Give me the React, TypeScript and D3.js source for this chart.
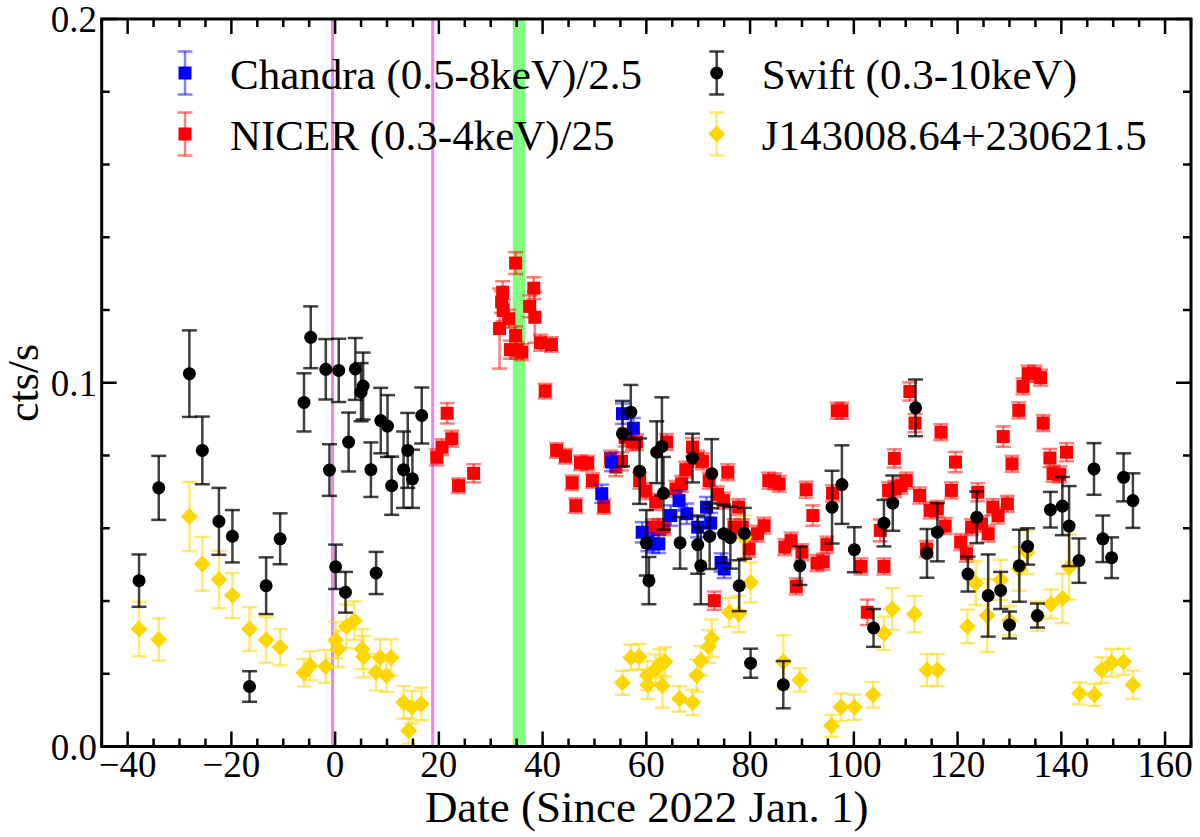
import * as d3 from "d3"

type Pt = [number, number, number] // day, rate, error

// Chandra (0.5-8 keV)/2.5
const chandra: Pt[] = [
  [51.4, 0.0695, 0.0025], [53.3, 0.0782, 0.0025], [55.4, 0.0915, 0.0028], [57.5, 0.0875, 0.0028],
  [59.2, 0.0589, 0.0028], [60.3, 0.0562, 0.0025], [61.2, 0.0557, 0.0025], [62.4, 0.0557, 0.0025],
  [64.7, 0.0635, 0.0028], [66.3, 0.0676, 0.0028], [67.8, 0.064, 0.0028], [69.9, 0.0603, 0.0028],
  [71.6, 0.0658, 0.0028], [72.4, 0.0614, 0.0028], [74.4, 0.0506, 0.0025], [75.0, 0.0488, 0.0025],
]

// NICER (0.3-4 keV)/25
const nicer: Pt[] = [
  [19.6, 0.0795, 0.0022], [20.6, 0.0823, 0.0022], [21.6, 0.0916, 0.0028], [22.5, 0.0846, 0.0022],
  [23.8, 0.0717, 0.002], [26.7, 0.0751, 0.0025], [31.7, 0.1149, 0.011], [32.1, 0.1222, 0.003],
  [32.3, 0.1249, 0.003], [32.4, 0.1199, 0.003], [33.5, 0.1176, 0.0025], [33.8, 0.1091, 0.0025],
  [34.8, 0.1329, 0.003], [34.8, 0.113, 0.0025], [35.1, 0.1089, 0.0022], [36.0, 0.1084, 0.0022],
  [37.5, 0.121, 0.003], [38.3, 0.126, 0.003], [38.5, 0.118, 0.007], [39.6, 0.111, 0.0022],
  [41.7, 0.1105, 0.002], [40.5, 0.0977, 0.002], [42.7, 0.0814, 0.002], [44.4, 0.0798, 0.002],
  [45.7, 0.0725, 0.002], [46.4, 0.0662, 0.002], [47.3, 0.078, 0.002], [48.7, 0.0779, 0.002],
  [49.6, 0.0731, 0.002], [51.8, 0.066, 0.002], [53.1, 0.0791, 0.0022], [54.1, 0.0768, 0.0025],
  [55.2, 0.0784, 0.0025], [55.9, 0.085, 0.0025], [57.3, 0.0837, 0.0022], [58.1, 0.0837, 0.0022],
  [58.7, 0.0731, 0.0022], [59.9, 0.0702, 0.0022], [61.2, 0.0603, 0.0022], [61.8, 0.0672, 0.0022],
  [62.4, 0.0603, 0.0022], [63.4, 0.0603, 0.0022], [63.9, 0.0837, 0.0022], [65.7, 0.0708, 0.0022],
  [66.8, 0.0722, 0.0022], [67.6, 0.0761, 0.0022], [68.9, 0.0823, 0.0025], [69.9, 0.0791, 0.0022],
  [70.8, 0.0784, 0.0022], [72.1, 0.0731, 0.0022], [73.1, 0.0401, 0.0025], [73.7, 0.0693, 0.0022],
  [74.9, 0.0676, 0.0022], [75.7, 0.0754, 0.0022], [76.9, 0.0603, 0.0022], [77.8, 0.0658, 0.0022],
  [78.5, 0.0603, 0.0022], [79.8, 0.0543, 0.0022], [81.4, 0.0585, 0.0022], [82.7, 0.0607, 0.0022],
  [83.6, 0.0731, 0.0022], [84.7, 0.0729, 0.0022], [85.6, 0.0722, 0.0022], [86.7, 0.0548, 0.0022],
  [87.9, 0.0566, 0.0022], [88.9, 0.044, 0.0022], [90.0, 0.0534, 0.0022], [90.8, 0.0706, 0.0022],
  [92.1, 0.0635, 0.0028], [92.9, 0.0504, 0.0022], [94.1, 0.0508, 0.0022], [94.8, 0.0555, 0.0022],
  [95.9, 0.0696, 0.0022], [96.8, 0.0923, 0.0022], [97.7, 0.0923, 0.0022], [101.4, 0.0495, 0.0022],
  [102.6, 0.0369, 0.0035], [105.1, 0.0594, 0.003], [105.8, 0.0495, 0.0022], [106.7, 0.0704, 0.0022],
  [107.8, 0.0792, 0.0025], [107.9, 0.0708, 0.0022], [109.1, 0.0717, 0.0022], [110.1, 0.0731, 0.0022],
  [110.8, 0.0976, 0.0025], [111.8, 0.0889, 0.0025], [112.7, 0.069, 0.0022], [114.0, 0.0543, 0.0022],
  [114.7, 0.0649, 0.0022], [116.1, 0.0653, 0.0022], [116.8, 0.0864, 0.0022], [117.6, 0.0606, 0.0022],
  [118.8, 0.0704, 0.0022], [119.6, 0.0782, 0.0028], [120.6, 0.0562, 0.0022], [121.7, 0.053, 0.0022],
  [122.7, 0.0603, 0.0022], [123.9, 0.0699, 0.0025], [124.6, 0.0612, 0.0022], [125.9, 0.0585, 0.0022],
  [126.8, 0.0658, 0.0022], [127.8, 0.0635, 0.0022], [128.8, 0.0852, 0.0028], [129.6, 0.0667, 0.0022],
  [130.5, 0.0777, 0.0022], [131.8, 0.0924, 0.0022], [132.6, 0.099, 0.0022], [133.6, 0.1025, 0.0022],
  [134.9, 0.1025, 0.0022], [136.0, 0.1014, 0.0022], [136.5, 0.0889, 0.0022], [137.8, 0.0793, 0.0025],
  [138.4, 0.075, 0.0022], [139.7, 0.0748, 0.0022], [141.0, 0.0809, 0.0025],
]

// Swift (0.3-10 keV)
const swift: Pt[] = [
  [-37.8, 0.0456, 0.0072], [-34.0, 0.0711, 0.0088], [-28.1, 0.1025, 0.0119], [-25.6, 0.0814, 0.0093],
  [-22.4, 0.0619, 0.0092], [-19.8, 0.0578, 0.0072], [-16.5, 0.0165, 0.0042], [-13.3, 0.0442, 0.0078],
  [-10.6, 0.0571, 0.007], [-6.0, 0.0946, 0.008], [-4.7, 0.1125, 0.0085], [-1.8, 0.1037, 0.0083],
  [-1.1, 0.076, 0.0071], [0.1, 0.0494, 0.0061], [0.7, 0.1034, 0.0087], [2.0, 0.0424, 0.0056],
  [2.6, 0.0837, 0.0081], [3.9, 0.1038, 0.0085], [5.0, 0.0974, 0.008], [5.4, 0.0991, 0.0092],
  [6.9, 0.0761, 0.0075], [7.9, 0.0477, 0.0058], [8.8, 0.0896, 0.009], [10.1, 0.0881, 0.0085],
  [10.9, 0.0717, 0.008], [13.2, 0.0761, 0.0105], [14.0, 0.0814, 0.0103], [14.9, 0.0736, 0.008],
  [16.7, 0.091, 0.0077], [55.4, 0.086, 0.009], [57.0, 0.0919, 0.0075], [58.7, 0.0757, 0.009],
  [60.0, 0.056, 0.009], [60.5, 0.0456, 0.0065], [62.0, 0.0809, 0.0085], [63.0, 0.0825, 0.0135],
  [63.3, 0.0696, 0.01], [66.5, 0.056, 0.0071], [68.9, 0.0793, 0.0067], [69.9, 0.0555, 0.008],
  [70.5, 0.0497, 0.0106], [72.2, 0.0578, 0.009], [72.6, 0.075, 0.0095], [74.9, 0.0585, 0.008],
  [76.2, 0.0574, 0.0085], [77.9, 0.0442, 0.007], [78.9, 0.0586, 0.007], [80.1, 0.0229, 0.004],
  [86.4, 0.017, 0.0065], [89.6, 0.0497, 0.0053], [95.8, 0.0658, 0.01], [97.7, 0.072, 0.0108],
  [100.1, 0.0541, 0.0062], [103.8, 0.0326, 0.0052], [105.8, 0.0614, 0.0064], [107.5, 0.0669, 0.0076],
  [111.9, 0.0931, 0.0078], [114.1, 0.0531, 0.0067], [116.1, 0.0589, 0.008], [122.0, 0.0474, 0.0048],
  [123.7, 0.063, 0.0071], [125.9, 0.0415, 0.0113], [128.3, 0.0429, 0.0051], [130.0, 0.0334, 0.0037],
  [131.9, 0.0497, 0.0099], [133.5, 0.055, 0.005], [135.4, 0.036, 0.0033], [137.9, 0.0651, 0.0049],
  [140.2, 0.0661, 0.008], [141.5, 0.0606, 0.011], [143.4, 0.0511, 0.0061], [146.3, 0.0763, 0.0071],
  [148.0, 0.0571, 0.0064], [149.7, 0.0519, 0.0056], [152.0, 0.074, 0.0066], [153.8, 0.0676, 0.0075],
]

// J143008.64+230621.5
const j1430: Pt[] = [
  [-37.8, 0.0323, 0.0075], [-34.0, 0.0294, 0.0058], [-28.1, 0.0632, 0.0095], [-25.6, 0.0502, 0.0074],
  [-22.4, 0.0459, 0.0079], [-19.8, 0.0415, 0.0062], [-16.5, 0.0323, 0.006], [-13.3, 0.0293, 0.0063],
  [-10.6, 0.0273, 0.005], [-6.0, 0.0203, 0.0038], [-4.8, 0.0222, 0.004], [-1.8, 0.022, 0.0045],
  [0.1, 0.0292, 0.005], [0.6, 0.0268, 0.005], [2.2, 0.033, 0.006], [3.7, 0.0346, 0.0053],
  [5.2, 0.0268, 0.0055], [5.5, 0.0247, 0.0057], [7.9, 0.0204, 0.005], [8.7, 0.0245, 0.005],
  [9.9, 0.0195, 0.0045], [10.8, 0.0245, 0.005], [13.2, 0.0121, 0.0045], [14.2, 0.0043, 0.0035],
  [14.8, 0.0108, 0.0045], [16.6, 0.0117, 0.0045], [55.4, 0.0175, 0.0033], [57.0, 0.0245, 0.0035],
  [58.6, 0.0247, 0.0035], [60.2, 0.0195, 0.004], [60.3, 0.017, 0.004], [61.8, 0.0213, 0.004],
  [62.6, 0.0227, 0.004], [63.6, 0.0233, 0.004], [63.1, 0.0167, 0.006], [66.4, 0.0131, 0.0035],
  [68.9, 0.0121, 0.0035], [69.7, 0.0195, 0.0045], [70.5, 0.0236, 0.004], [72.0, 0.0275, 0.0045],
  [72.6, 0.0297, 0.0052], [76.0, 0.0369, 0.004], [77.8, 0.0364, 0.005], [78.8, 0.0575, 0.006],
  [80.1, 0.0451, 0.0055], [86.4, 0.0233, 0.0073], [89.6, 0.0183, 0.0032], [95.7, 0.0057, 0.003],
  [97.5, 0.0108, 0.0038], [100.1, 0.0108, 0.0035], [103.7, 0.0142, 0.0035], [105.8, 0.0311, 0.0046],
  [107.4, 0.0378, 0.0057], [111.7, 0.0364, 0.005], [114.1, 0.021, 0.0044], [116.1, 0.021, 0.0044],
  [121.9, 0.033, 0.0046], [123.5, 0.0449, 0.006], [125.7, 0.036, 0.01], [128.3, 0.0458, 0.0055],
  [130.0, 0.0346, 0.004], [131.9, 0.0488, 0.006], [133.4, 0.0534, 0.006], [135.4, 0.0358, 0.004],
  [138.0, 0.0392, 0.004], [140.2, 0.0407, 0.0068], [141.5, 0.0493, 0.009], [143.5, 0.0146, 0.003],
  [146.4, 0.0142, 0.003], [147.8, 0.021, 0.0035], [149.7, 0.023, 0.0038], [152.0, 0.0233, 0.0036],
  [153.8, 0.017, 0.0039],
]

const eventLines = [-0.5, 18.8]
const greenSpan = [34.25, 36.6]
const xMajor = [-40, -20, 0, 20, 40, 60, 80, 100, 120, 140, 160]
const yMajor = [0, 0.1, 0.2]

const W = 1200
const H = 837
const FONT = '"Liberation Serif", "Times New Roman", Times, "DejaVu Serif", serif'

type Shape = "square" | "circle" | "diamond"

interface Series {
  label: string
  data: Pt[]
  shape: Shape
  color: string
  errOpacity: number
}

const seriesList: Series[] = [
  { label: "Chandra (0.5-8keV)/2.5", data: chandra, shape: "square", color: "#0000ff", errOpacity: 0.5 },
  { label: "NICER (0.3-4keV)/25", data: nicer, shape: "square", color: "#ff0000", errOpacity: 0.5 },
  { label: "Swift (0.3-10keV)", data: swift, shape: "circle", color: "#000000", errOpacity: 0.75 },
  { label: "J143008.64+230621.5", data: j1430, shape: "diamond", color: "#ffd700", errOpacity: 0.55 },
]

function Marker({ shape, cx, cy, color }: { shape: Shape; cx: number; cy: number; color: string }) {
  if (shape === "circle") return <circle cx={cx} cy={cy} r={6.5} fill={color} />
  if (shape === "square") return <rect x={cx - 6.5} y={cy - 6.5} width={13} height={13} fill={color} />
  const d = 8.5
  return <path d={`M${cx},${cy - d}L${cx + d},${cy}L${cx},${cy + d}L${cx - d},${cy}Z`} fill={color} />
}

function ErrBar({ cx, y0, y1, color, opacity }: { cx: number; y0: number; y1: number; color: string; opacity: number }) {
  const cap = 7.5
  return (
    <g stroke={color} strokeOpacity={opacity} strokeWidth={2.5} fill="none">
      <line x1={cx} x2={cx} y1={y0} y2={y1} />
      <line x1={cx - cap} x2={cx + cap} y1={y0} y2={y0} />
      <line x1={cx - cap} x2={cx + cap} y1={y1} y2={y1} />
    </g>
  )
}

export default function App() {
  const x = d3.scaleLinear().domain([-45, 165]).range([101.7, 1191])
  const y = d3.scaleLinear().domain([0, 0.2]).range([746.5, 19])
  const [x0, x1] = x.range()
  const [yb, yt] = y.range()

  const xMinor = d3.range(-45, 166, 5).filter((v) => !xMajor.includes(v))
  const yMinor = d3.range(0.02, 0.2, 0.02).filter((v) => Math.abs(v - 0.1) > 1e-6)

  const fmtX = (v: number) => (v < 0 ? "\u2212" + Math.abs(v) : String(v))

  // drawing order: NICER, Chandra, J1430, Swift on top
  const order = [seriesList[1], seriesList[0], seriesList[3], seriesList[2]]

  const legendPos = [
    { cx: 185, cy: 73, tx: 230 },
    { cx: 185, cy: 134, tx: 230 },
    { cx: 716.7, cy: 73, tx: 761.7 },
    { cx: 716.7, cy: 134, tx: 761.7 },
  ]

  const textStyle = { fontFamily: FONT }

  return (
    <svg width={W} height={H} style={{ position: "absolute", left: 0, top: 0, background: "#fff", fontFamily: FONT }}>
      <rect width={W} height={H} fill="#fff" />

      {/* green band and event lines */}
      <rect x={x(greenSpan[0])} y={yt} width={x(greenSpan[1]) - x(greenSpan[0])} height={yb - yt} fill="#80ff80" />
      {eventLines.map((v) => (
        <line key={v} x1={x(v)} x2={x(v)} y1={yt} y2={yb} stroke="#f77ef7" strokeWidth={3} />
      ))}

      {/* error bars then markers */}
      {order.map((s) => (
        <g key={s.label}>
          {s.data.map(([d, v, e], i) => (
            <ErrBar key={i} cx={x(d)} y0={y(v - e)} y1={y(v + e)} color={s.color} opacity={s.errOpacity} />
          ))}
          {s.data.map(([d, v], i) => (
            <Marker key={i} shape={s.shape} cx={x(d)} cy={y(v)} color={s.color} />
          ))}
        </g>
      ))}

      {/* ticks, inside on all four sides */}
      <g stroke="#000" strokeWidth={2.5}>
        {xMajor.map((v) => (
          <g key={"xM" + v}>
            <line x1={x(v)} x2={x(v)} y1={yb} y2={yb - 15} />
            <line x1={x(v)} x2={x(v)} y1={yt} y2={yt + 15} />
          </g>
        ))}
        {xMinor.map((v) => (
          <g key={"xm" + v}>
            <line x1={x(v)} x2={x(v)} y1={yb} y2={yb - 8} />
            <line x1={x(v)} x2={x(v)} y1={yt} y2={yt + 8} />
          </g>
        ))}
        {yMajor.map((v) => (
          <g key={"yM" + v}>
            <line x1={x0} x2={x0 + 15} y1={y(v)} y2={y(v)} />
            <line x1={x1} x2={x1 - 15} y1={y(v)} y2={y(v)} />
          </g>
        ))}
        {yMinor.map((v) => (
          <g key={"ym" + v}>
            <line x1={x0} x2={x0 + 8} y1={y(v)} y2={y(v)} />
            <line x1={x1} x2={x1 - 8} y1={y(v)} y2={y(v)} />
          </g>
        ))}
      </g>

      {/* frame */}
      <rect x={x0} y={yt} width={x1 - x0} height={yb - yt} fill="none" stroke="#000" strokeWidth={3} />

      {/* tick labels */}
      {xMajor.map((v) => (
        <text key={"xl" + v} x={x(v)} y={777} fontSize={37} textAnchor="middle" fill="#000" style={textStyle}>
          {fmtX(v)}
        </text>
      ))}
      {yMajor.map((v) => (
        <text key={"yl" + v} x={97} y={y(v) + 13} fontSize={37} textAnchor="end" fill="#000" style={textStyle}>
          {v.toFixed(1)}
        </text>
      ))}

      {/* axis titles */}
      <text x={646.7} y={822} fontSize={45} textAnchor="middle" fill="#000" style={textStyle}>
        Date (Since 2022 Jan. 1)
      </text>
      <text transform="translate(38,383) rotate(-90)" fontSize={44} textAnchor="middle" fill="#000" style={textStyle}>
        cts/s
      </text>

      {/* legend */}
      {seriesList.map((s, i) => {
        const p = legendPos[i]
        return (
          <g key={"lg" + s.label}>
            <ErrBar cx={p.cx} y0={p.cy - 21.5} y1={p.cy + 21.5} color={s.color} opacity={s.errOpacity} />
            <Marker shape={s.shape} cx={p.cx} cy={p.cy} color={s.color} />
            <text x={p.tx} y={p.cy + 16} fontSize={43} fill="#000" style={textStyle}>
              {s.label}
            </text>
          </g>
        )
      })}
    </svg>
  )
}
